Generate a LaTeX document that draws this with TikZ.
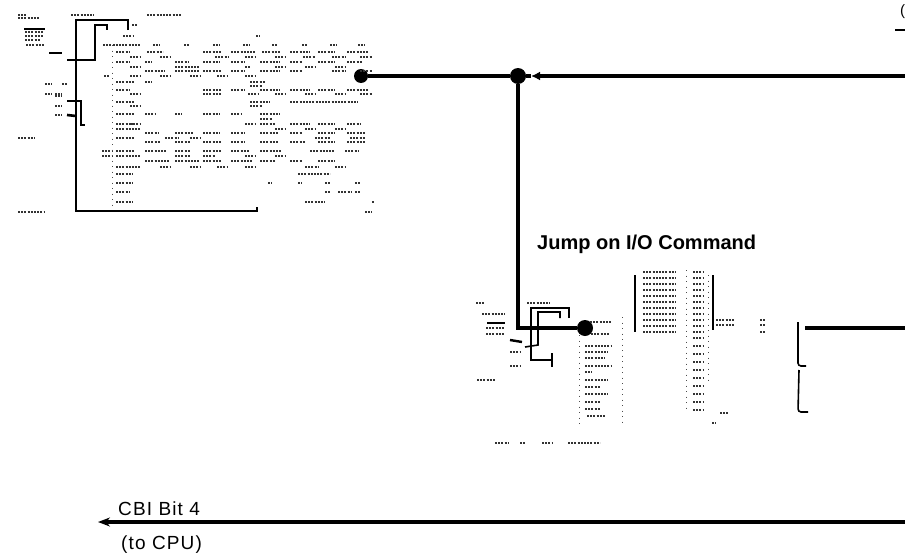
\documentclass[tikz,border=0pt]{standalone}
\usepackage{fontspec}
\setmainfont{Liberation Sans}
\usetikzlibrary{arrows.meta}
% one row of unreadable small print: y, then x-from/x-to pairs
\newcommand{\specks}[2]{\foreach \xa/\xb in {#2} \draw[speck] (\xa,#1) -- (\xb,#1);}
\tikzset{
	bus/.style={line width=3.2pt, black},
	wire/.style={line width=2.6pt, black},
	thinwire/.style={line width=1.6pt, black},
	speck/.style={line width=1.1pt, black!80, dash pattern=on 2pt off 1.2pt},
	blot/.style={line width=2.4pt, black},
	dotted col/.style={line width=0.8pt, black!70, dash pattern=on 1pt off 4.5pt},
	junction/.style={circle, fill=black, inner sep=0pt},
	label/.style={font=\fontsize{19}{19}\selectfont\addfontfeature{LetterSpace=6}, anchor=base west, inner sep=0pt}
}
\begin{document}
\begin{tikzpicture}[x=1pt, y=-1pt]
	\useasboundingbox (0,0) rectangle (905,554);
	\fill[white] (0,0) rectangle (905,554);

	% main lines
	\node[junction, minimum size=14pt] (dotOut) at (361,76) {};
	\node[junction, minimum size=16pt] (dotJoin) at (518,76) {};
	\node[junction, minimum size=16pt] (dotJump) at (585,328) {};
	\coordinate (rightTop) at (905,76);
	\coordinate (turn) at (518,328);
	\coordinate (rightMid) at (905,328);
	\coordinate (bracketMid) at (805,328);
	\coordinate (rightLow) at (905,522);
	\coordinate (toCpu) at (98,522);
	\coordinate (arrowTop) at (531,76);
	\draw[bus] (dotOut) -- (dotJoin);
	\draw[bus, -{Latex[length=9pt,width=9pt]}] (rightTop) -- (arrowTop);
	\draw[bus] (arrowTop) -- (dotJoin);
	\draw[bus, line width=3.8pt] (dotJoin) -- (turn) -- (dotJump);
	\draw[bus] (rightMid) -- (bracketMid);
	\draw[bus, -{Stealth[length=12pt,width=9pt]}] (rightLow) -- (toCpu);

	% labels
	\node[font=\bfseries\fontsize{20}{20}\selectfont, anchor=base west, inner sep=0pt] (jumpLabel) at (537,249) {Jump on I/O Command};
	\node[label] (cbiLabel) at (118,515) {CBI Bit 4};
	\node[label] (cpuLabel) at (121,549) {(to CPU)};
	\node[font=\fontsize{15}{15}\selectfont, anchor=base west, inner sep=0pt] (cornerLabel) at (900,15) {(};
	\coordinate (cornerA) at (895,30);
	\coordinate (cornerB) at (905,30);
	\draw[wire] (cornerA) -- (cornerB);

	% upper left wiring
	\draw[wire] (128,30) -- (128,20) -- (76,20) -- (76,211) -- (257,211) -- (257,207);
	\draw[wire] (67,60) -- (95,60) -- (95,25) -- (107,25) -- (107,30);
	\draw[wire] (67,101) -- (81,101) -- (81,125) -- (85,125);
	\draw[wire] (67,115) -- (76,116);

	% lower wiring
	\draw[thinwire] (569,318) -- (569,308) -- (531,308) -- (531,360);
	\draw[thinwire] (560,318) -- (560,312) -- (538,312) -- (538,345) -- (525,347);
	\draw[thinwire] (530,360) -- (547,360);
	\draw[thinwire] (552,353) -- (552,367);
	\draw[thinwire] (545,360) -- (552,360);

	% brackets
	\draw[thinwire, rounded corners=3pt] (798,322) -- (798,366) -- (806,366);
	\draw[thinwire, rounded corners=3pt] (799,370) -- (798,412) -- (808,412);
	\draw[thinwire] (635,275) -- (635,332);
	\draw[thinwire] (713,275) -- (713,330);

	% heavier blots in the small print
	\draw[blot] (24,29) -- (45,29);
	\draw[blot] (49,53) -- (62,53);
	\draw[blot] (487,323) -- (505,323);
	\draw[blot] (510,340) -- (522,342);

	% upper left small print
	\specks{15}{18/27,71/94,147/181}
	\specks{18}{18/40}
	\specks{25}{132/138}
	\specks{32}{25/44}
	\specks{36}{25/44,123/133,256/260}
	\specks{40}{25/40}
	\specks{45}{26/45,103/140,153/160,184/190,213/220,243/250,272/278,302/308,330/337,358/365}
	\specks{52}{116/130,147/163,203/222,231/256,262/280,290/310,318/335,347/368}
	\specks{57}{130/140,160/171,215/228,245/256,275/285,303/315,332/345,360/372}
	\specks{62}{116/130,145/152,175/188,203/220,231/245,260/280,290/302,318/335,347/362}
	\specks{67}{130/140,175/200,245/250,275/285,305/315,335/345}
	\specks{71}{145/165,175/200,203/222,231/245,260/280,290/302,332/345,360/372}
	\specks{76}{104/110,130/140,160/170,190/200,217/228,245/256}
	\specks{82}{116/135,145/152,250/265}
	\specks{86}{250/262}
	\specks{90}{116/130,203/222,231/245,260/280,290/310,318/335,347/368}
	\specks{94}{45/52,55/62,130/140,203/222,248/258,275/285,305/315,335/345,360/372}
	\specks{102}{116/135,250/270,290/358}
	\specks{106}{130/140,250/262}
	\specks{114}{116/135,145/155,175/182,203/220,231/242,260/280}
	\specks{119}{260/272}
	\specks{124}{116/135,130/140,245/256,260/275,290/310,318/335,347/360}
	\specks{129}{116/140,275/285,305/315,335/345}
	\specks{133}{145/158,175/193,203/220,231/245,260/278,290/302,318/335,347/365}
	\specks{138}{18/35,116/135,165/178,190/200,315/330,350/365}
	\specks{142}{145/160,175/190,203/222,231/245,260/278,290/305,318/335,347/365}
	\specks{151}{102/112,116/135,145/167,175/190,203/222,231/250,260/282,310/335,345/358}
	\specks{156}{102/112,116/140,175/190,203/215,245/256,275/285}
	\specks{161}{145/170,175/200,203/222,231/252,260/275,290/302,318/335}
	\specks{167}{116/140,160/170,190/200,217/228,245/256,305/318,335/345}
	\specks{174}{116/133,298/330}
	\specks{183}{116/133,268/272,298/302,325/330,355/360}
	\specks{192}{116/130,325/330,338/352,355/360}
	\specks{202}{116/133,305/325,372/375}
	\specks{212}{18/45,365/372}

	% small circuit at left
	\specks{84}{45/52,62/68}
	\specks{96}{55/62}
	\specks{106}{55/62}
	\specks{115}{55/62}

	% lower small print
	\specks{303}{476/484,527/550}
	\specks{314}{482/505}
	\specks{328}{486/505}
	\specks{334}{486/505,591/610}
	\specks{322}{590/612}
	\specks{346}{585/612}
	\specks{352}{510/520,585/608}
	\specks{358}{585/605}
	\specks{366}{510/520,585/612}
	\specks{372}{585/592}
	\specks{380}{477/495,585/608}
	\specks{387}{585/600}
	\specks{394}{585/608}
	\specks{402}{585/600}
	\specks{409}{585/600}
	\specks{416}{587/605}
	\specks{443}{495/508,520/525,542/552,568/600}

	% list beside the jump
	\foreach \y in {272,278,...,332} {
		\draw[speck] (643,\y) -- (676,\y);
		\draw[speck] (693,\y) -- (704,\y);
	}
	\foreach \y in {338,346,...,410} \draw[speck] (693,\y) -- (704,\y);
	\specks{320}{716/735,760/766}
	\specks{325}{716/735,760/766}
	\specks{332}{760/766}
	\specks{413}{720/728}
	\specks{423}{712/716}

	% broken column rules
	\draw[dotted col] (622,317) -- (622,425);
	\draw[dotted col] (579,335) -- (579,425);
	\draw[dotted col] (686,270) -- (686,410);
	\draw[dotted col] (708,275) -- (708,380);
	\draw[dotted col] (112,45) -- (112,210);
\end{tikzpicture}
\end{document}
